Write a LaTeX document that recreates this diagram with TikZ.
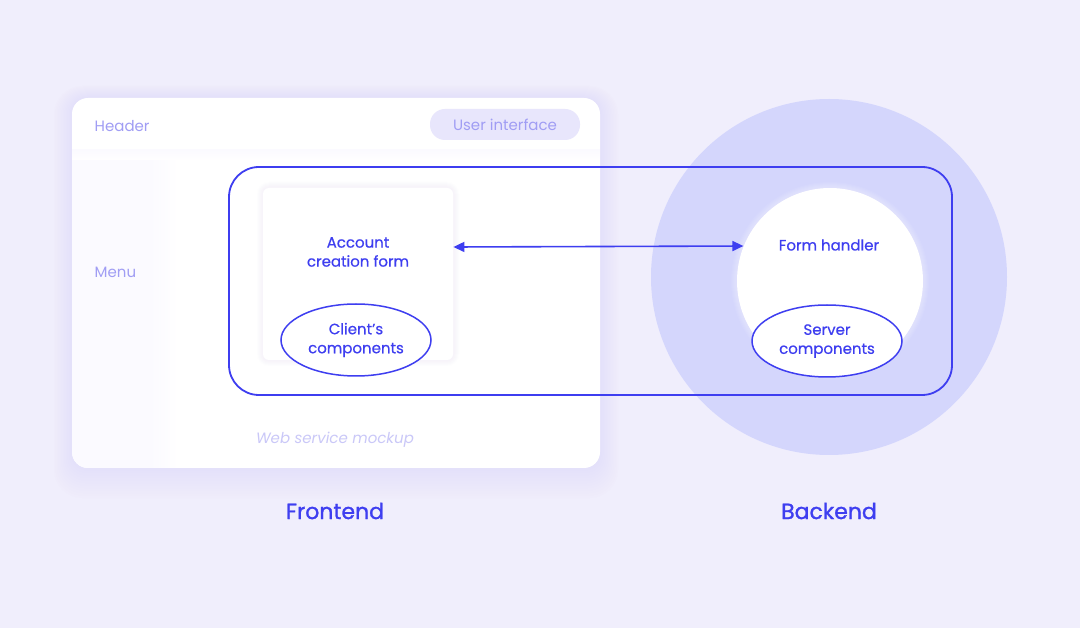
\documentclass[tikz,border=0pt]{standalone}
\usepackage{fontspec}
\setmainfont{Poppins}
\newfontfamily\medfont[FakeBold=1.2]{Poppins}
\newfontfamily\bodyfont[FakeBold=0.5]{Poppins}
\usepackage{tikz}
\usetikzlibrary{arrows.meta}
\usetikzlibrary{shapes.geometric}

\definecolor{bgcol}{RGB}{240,238,252}
\definecolor{inkblue}{RGB}{62,62,240}
\definecolor{softtext}{RGB}{160,157,244}
\definecolor{pillcol}{RGB}{232,230,252}
\definecolor{ringcol}{RGB}{212,214,252}
\definecolor{glowcol}{RGB}{200,194,250}
\definecolor{menucol}{RGB}{251,250,255}
\definecolor{mockcol}{RGB}{202,200,248}

\tikzset{
	softlabel/.style={text=softtext, font=\fontsize{15}{19}\selectfont},
	bluelabel/.style={text=inkblue, font=\bodyfont\fontsize{15}{19}\selectfont, align=center},
	partoval/.style={ellipse, draw=inkblue, line width=1.5pt, fill=white,
		minimum width=150pt, minimum height=72pt, inner sep=0pt},
	sidelabel/.style={text=inkblue, font=\medfont\fontsize{22}{26}\selectfont}
}

\begin{document}
\begin{tikzpicture}[
		x=1pt,
		y=-1pt,
		>={Triangle[length=11pt,width=10pt]},
		thick
	]
		\useasboundingbox (0,0) rectangle (1080,628);
		\fill[bgcol] (0,0) rectangle (1080,628);
		% glow round the mockup
		\foreach \g in {1,...,12}
			\fill[glowcol, opacity=0.025, rounded corners=16+\g] (72-1.5*\g,98-\g) rectangle (600+1.5*\g,468+2.5*\g);
		% backend disc
		\node[circle, fill=ringcol, minimum size=356pt, inner sep=0pt] (backend) at (829,277) {};
		% web service mockup
		\node[fill=white, rounded corners=16pt, minimum width=528pt, minimum height=370pt, inner sep=0pt] (mockup) at (336,283) {};
		\begin{scope}
			\clip[rounded corners=16pt] (72,98) rectangle (600,468);
			\fill[menucol] (72,150) rectangle (150,468);
			\shade[left color=menucol, right color=white] (150,150) rectangle (178,468);
			\shade[top color=menucol, bottom color=white] (72,150) rectangle (600,160);
		\end{scope}
		\node[softlabel, anchor=west] (header) at (91,126) {Header};
		\node[softlabel, anchor=west] (menu) at (91,272) {Menu};
		\node[fill=pillcol, rounded corners=15pt, minimum width=150pt, minimum height=31pt, softlabel] (ui) at (505,124.5) {User interface};
		\node[text=mockcol, font=\itshape\fontsize{15}{19}\selectfont] (mock) at (335,440) {Web service mockup};
		% account form card
		\foreach \g in {1,...,6}
			\fill[glowcol, opacity=0.02, rounded corners=6+\g] (263-\g,188-\g) rectangle (453+\g,360+\g);
		\node[fill=white, rounded corners=6pt, minimum width=190pt, minimum height=172pt, inner sep=0pt] (form) at (358,274) {};
		% form handler disc
		\foreach \g in {1,...,6}
			\node[circle, fill=white, opacity=0.06, minimum size=186pt+2*\g pt, inner sep=0pt] at (830,281) {};
		\node[circle, fill=white, minimum size=186pt, inner sep=0pt] (handler) at (830,281) {};
		% group frame
		\draw[inkblue, line width=1.8pt, rounded corners=30pt] (229,167) rectangle (952,395);
		% labels and parts
		\node[bluelabel] (formtext) at (358,252) {Account\\creation form};
		\node[bluelabel] (handlertext) at (829,245) {Form handler};
		\node[partoval, bluelabel] (client) at (356,340) {Client’s\\components};
		\node[partoval, bluelabel] (server) at (827,341) {Server\\components};
		\draw[<->, inkblue, line width=1.6pt] (form.east |- 0,247) -- (handler.158.6);
		\node[sidelabel] (front) at (335,511) {Frontend};
		\node[sidelabel] (back) at (829,511) {Backend};
	\end{tikzpicture}
\end{document}
